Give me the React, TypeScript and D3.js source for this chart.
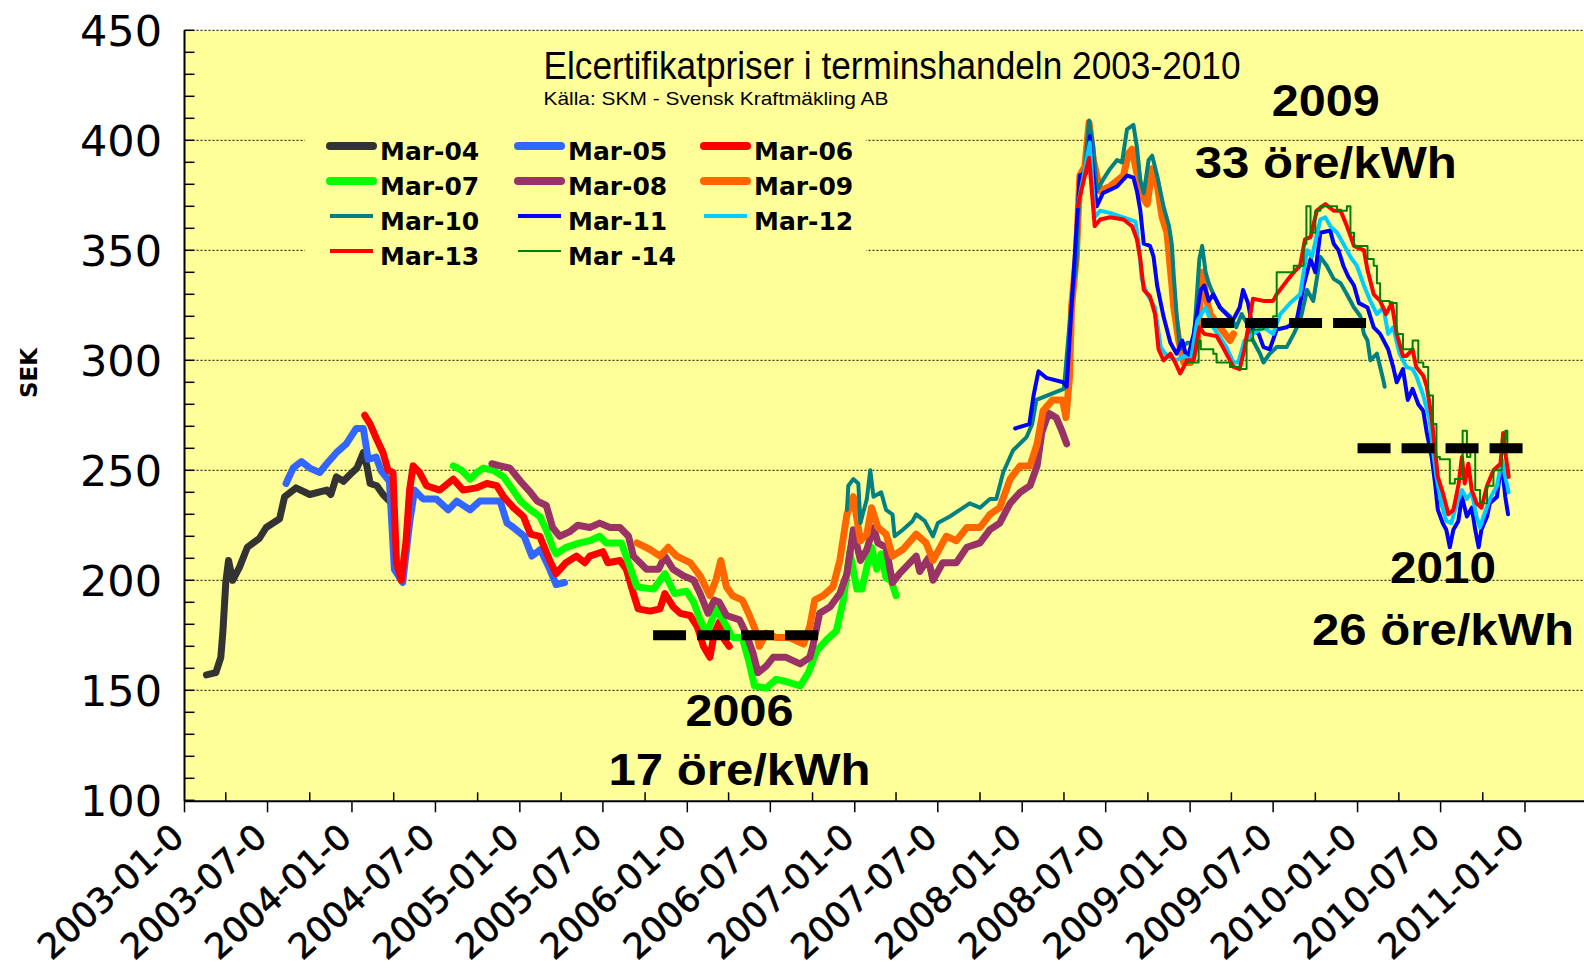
import React from "react";
import * as d3 from "d3";

// months counted from 2003-01-01, value in SEK
const mar04 = [
  [1.6, 157], [2.3, 158], [2.65, 165], [2.8, 177], [3.0, 199], [3.2, 209], [3.5, 200], [4.0, 206],
  [4.55, 215], [5.4, 219], [5.9, 224], [6.85, 228], [7.2, 238], [8.0, 242], [9.0, 239], [10.2, 241],
  [10.5, 239], [10.9, 247], [11.4, 245], [11.85, 248], [12.35, 251], [12.8, 258], [13.05, 252],
  [13.3, 244], [13.8, 243], [14.25, 239], [14.7, 236], [15.0, 235],
];
const mar05 = [
  [7.3, 244], [7.8, 251], [8.4, 254], [9.0, 251], [9.7, 249], [10.2, 253], [10.9, 258], [11.6, 262],
  [12.3, 269], [12.8, 269], [13.15, 255], [13.75, 256], [14.1, 250], [14.7, 245], [15.05, 205],
  [15.65, 199], [16.15, 226], [16.5, 241], [17.1, 237], [18.05, 237], [18.9, 232], [19.5, 236],
  [20.45, 232], [21.15, 236], [22.6, 236], [23.1, 226], [23.55, 224], [24.3, 220], [24.85, 211],
  [25.5, 214], [26.2, 205], [26.65, 198], [27.25, 199],
];
const mar06 = [
  [12.9, 275], [13.3, 271], [13.8, 264], [14.25, 258], [14.6, 250], [14.95, 249], [15.2, 208],
  [15.55, 200], [15.9, 218], [16.15, 241], [16.4, 252], [16.85, 249], [17.35, 243], [18.3, 241],
  [19.25, 246], [19.95, 241], [20.9, 242], [21.65, 244], [22.35, 243], [22.85, 238], [23.55, 233],
  [24.25, 229], [24.75, 221], [25.45, 220], [26.2, 209], [26.65, 203], [27.35, 208], [28.1, 211],
  [28.7, 208], [29.05, 211], [30.0, 213], [30.35, 208], [31.2, 209], [31.65, 205], [32.15, 194],
  [32.5, 187], [33.35, 186], [34.05, 187], [34.4, 194], [35.0, 188], [35.5, 185], [36.2, 184],
  [36.7, 179], [37.15, 170], [37.65, 165], [38.0, 176], [38.35, 181], [38.7, 173], [39.05, 170],
];
const mar07 = [
  [19.25, 252], [19.85, 250], [20.45, 246], [20.95, 249], [21.4, 251], [22.1, 250], [22.85, 247],
  [23.3, 243], [24.05, 236], [24.75, 232], [25.45, 229], [25.95, 223], [26.4, 215], [26.65, 212],
  [27.35, 215], [28.35, 217], [29.05, 218], [29.76, 220], [30.24, 217], [31.3, 217], [31.8, 208],
  [32.4, 197], [33.6, 196], [34.4, 203], [35.1, 194], [35.95, 195], [36.45, 190], [36.9, 182],
  [37.4, 176], [37.75, 181], [38.1, 187], [38.6, 182], [39.3, 174], [40.0, 174], [40.5, 162],
  [40.85, 152], [41.7, 151], [42.4, 155], [43.1, 154], [44.1, 152], [44.7, 158], [45.3, 168],
  [46.0, 173], [46.7, 177], [47.2, 191], [47.65, 213], [48.15, 196], [48.5, 196], [48.85, 206],
  [49.2, 215], [49.6, 205], [49.95, 212], [50.3, 201], [50.65, 200], [51.0, 193],
];
const mar08 = [
  [22.0, 253], [22.6, 252], [23.3, 251], [24.05, 245], [24.75, 240], [25.25, 236], [25.95, 234],
  [26.4, 224], [26.9, 220], [27.6, 222], [28.2, 225], [29.05, 224], [29.76, 226], [30.5, 224],
  [31.2, 224], [31.8, 220], [32.15, 211], [33.1, 205], [33.95, 205], [34.4, 211], [35.0, 205],
  [35.75, 202], [36.45, 200], [36.9, 194], [37.5, 185], [38.0, 191], [38.35, 190], [38.85, 184],
  [39.8, 182], [40.25, 176], [40.75, 167], [41.1, 158], [41.7, 161], [42.2, 165], [43.1, 165],
  [44.1, 162], [44.8, 165], [45.05, 171], [45.5, 185], [46.25, 188], [46.95, 194], [47.45, 203],
  [47.9, 223], [48.4, 209], [48.85, 214], [49.35, 224], [49.7, 217], [50.3, 215], [50.75, 199],
  [51.25, 203], [52.45, 211], [52.7, 204], [53.3, 210], [53.65, 200], [54.35, 208], [55.3, 208],
  [56.05, 215], [57.0, 217], [57.7, 223], [58.4, 226], [59.15, 235], [59.85, 240], [60.55, 243],
  [61.05, 252], [61.4, 267], [61.9, 276], [62.45, 274], [62.85, 268], [63.2, 262],
];
const mar09 = [
  [32.4, 217], [33.35, 214], [34.05, 211], [34.65, 215], [35.25, 211], [36.2, 208], [36.9, 202],
  [37.65, 193], [38.1, 200], [38.45, 209], [38.85, 197], [39.3, 193], [40.0, 191], [40.5, 184],
  [41.0, 176], [41.2, 170], [41.7, 176], [42.4, 174], [43.35, 174], [44.35, 171], [44.8, 179],
  [45.15, 191], [45.75, 193], [46.45, 197], [46.95, 209], [47.45, 230], [47.9, 238], [48.4, 218],
  [48.85, 221], [49.2, 233], [49.7, 224], [50.3, 221], [50.75, 211], [51.5, 214], [52.45, 221],
  [53.15, 217], [53.65, 209], [54.6, 220], [55.3, 218], [56.05, 224], [57.0, 224], [57.7, 230],
  [58.4, 233], [59.15, 246], [59.85, 252], [60.55, 252], [61.05, 262], [61.5, 277], [62.2, 282],
  [62.9, 282], [63.15, 274], [63.4, 292], [63.55, 324], [63.9, 347], [64.15, 384], [64.5, 388],
  [64.8, 408], [65.1, 391], [65.6, 377], [66.3, 379], [67.25, 384], [67.6, 394], [67.85, 396],
  [68.2, 385], [68.45, 376], [68.95, 371], [69.3, 387], [69.65, 380], [70.0, 365], [70.35, 358],
  [70.7, 335], [70.85, 324], [71.2, 309], [71.55, 299], [72.05, 299], [72.5, 309], [72.85, 340],
  [73.1, 330], [73.45, 321], [74.2, 315], [74.9, 309], [75.15, 312],
];
const mar10 = [
  [47.45, 232], [47.55, 243], [47.9, 246], [48.25, 244], [48.4, 226], [48.85, 237], [49.1, 250],
  [49.35, 238], [49.95, 240], [50.3, 232], [50.75, 230], [50.9, 220], [51.5, 223], [52.2, 227],
  [52.45, 230], [53.05, 227], [53.65, 220], [54.0, 226], [54.85, 229], [55.55, 232], [56.25, 235],
  [57.0, 233], [57.7, 237], [58.15, 237], [58.65, 249], [59.35, 259], [60.3, 265], [60.7, 271],
  [61.0, 282], [62.2, 285], [63.0, 287], [63.3, 309], [63.55, 326], [63.9, 344], [64.15, 382],
  [64.5, 387], [64.8, 409], [65.1, 397], [65.35, 377], [65.8, 382], [66.3, 387], [66.8, 391],
  [67.15, 390], [67.5, 405], [67.95, 407], [68.2, 397], [68.45, 382], [68.7, 376], [69.05, 391],
  [69.3, 393], [69.65, 384], [70.1, 370], [70.5, 361], [70.7, 353], [70.85, 338], [71.05, 321],
  [71.3, 305], [71.8, 308], [72.25, 308], [72.65, 346], [72.85, 352], [73.1, 340], [73.35, 335],
  [73.7, 330], [74.2, 324], [74.9, 320], [75.35, 315], [75.75, 321], [76.1, 317], [76.55, 309],
  [77.05, 303], [77.3, 299], [77.75, 303], [78.25, 306], [78.95, 306], [79.45, 312], [79.9, 318],
  [80.4, 332], [80.85, 327], [81.35, 347], [81.8, 343], [82.3, 337], [82.8, 335], [83.25, 330],
  [83.75, 324], [84.2, 320], [84.45, 312], [84.7, 309], [84.9, 300], [85.4, 303], [85.9, 291],
  [86.0, 288],
];
const mar11 = [
  [59.5, 269], [60.5, 271], [60.8, 284], [61.15, 295], [61.75, 292], [62.95, 290], [63.2, 288],
  [63.55, 324], [63.9, 359], [64.15, 384], [64.6, 385], [64.85, 402], [65.1, 384], [65.35, 370],
  [65.8, 376], [66.8, 379], [67.5, 384], [67.95, 383], [68.2, 377], [68.45, 368], [68.7, 353],
  [69.15, 352], [69.4, 347], [69.65, 334], [70.1, 320], [70.6, 308], [71.05, 303], [71.45, 309],
  [71.8, 300], [72.25, 312], [72.75, 332], [73.0, 334], [73.35, 327], [73.7, 330], [74.2, 324],
  [74.65, 321], [75.1, 318], [75.6, 324], [75.85, 332], [76.2, 326], [76.55, 314], [76.95, 312],
  [77.3, 306], [77.75, 305], [78.25, 314], [78.95, 315], [79.65, 318], [80.15, 334], [80.65, 346],
  [81.0, 340], [81.35, 358], [82.05, 359], [82.3, 353], [82.65, 350], [83.0, 343], [83.35, 338],
  [83.75, 334], [84.1, 326], [84.7, 324], [85.15, 315], [85.65, 312], [86.25, 305], [86.6, 297],
  [86.85, 290], [87.3, 296], [87.65, 282], [88.0, 287], [88.4, 280], [88.75, 277], [89.0, 267],
  [89.35, 256], [89.6, 244], [89.8, 232], [90.15, 226], [90.4, 223], [90.65, 215], [90.9, 223],
  [91.25, 227], [91.5, 238], [91.85, 229], [92.2, 233], [92.45, 223], [92.7, 215], [92.9, 223],
  [93.3, 229], [93.5, 235], [94.0, 238], [94.25, 250], [94.45, 247], [94.6, 238], [94.8, 230],
];
const mar12 = [
  [64.0, 370], [64.85, 399], [65.2, 365], [65.6, 368], [66.3, 367], [67.25, 365], [68.1, 363],
  [68.35, 352], [68.55, 337], [68.95, 330], [69.5, 324], [69.9, 306], [70.35, 302], [71.05, 300],
  [71.55, 302], [72.05, 300], [72.5, 318], [73.1, 324], [73.7, 315], [74.65, 306], [75.15, 299],
  [75.5, 299], [75.95, 309], [76.55, 312], [77.3, 315], [78.0, 312], [78.5, 321], [79.2, 326],
  [79.9, 330], [80.4, 350], [80.75, 347], [81.35, 364], [81.7, 365], [82.05, 361], [82.55, 358],
  [83.0, 353], [83.5, 347], [83.95, 343], [84.45, 334], [84.9, 327], [85.4, 321], [85.9, 324],
  [86.25, 312], [86.6, 315], [87.05, 303], [87.55, 297], [88.0, 296], [88.25, 293], [88.75, 284],
  [89.2, 273], [89.45, 259], [89.7, 247], [90.05, 235], [90.4, 227], [90.75, 226], [91.15, 235],
  [91.5, 241], [91.85, 237], [92.2, 240], [92.55, 229], [92.8, 224], [93.05, 229], [93.5, 237],
  [94.0, 243], [94.35, 255], [94.6, 247], [94.85, 240],
];
const mar13 = [
  [64.0, 370], [64.8, 392], [65.2, 361], [65.6, 364], [66.3, 365], [67.25, 364], [67.85, 361],
  [68.2, 355], [68.45, 346], [68.7, 332], [69.15, 329], [69.5, 321], [69.75, 305], [70.1, 300],
  [70.6, 303], [70.95, 299], [71.3, 294], [71.8, 300], [72.25, 300], [72.65, 315], [73.0, 312],
  [73.95, 311], [74.4, 306], [75.15, 297], [75.6, 296], [75.95, 305], [76.55, 328], [77.3, 327],
  [78.0, 327], [78.25, 330], [78.95, 336], [79.45, 340], [79.9, 343], [80.25, 355], [80.65, 356],
  [81.1, 368], [81.7, 371], [82.3, 368], [82.8, 368], [83.25, 361], [83.75, 352], [84.45, 350],
  [84.7, 341], [85.15, 330], [85.65, 327], [86.1, 321], [86.5, 326], [86.85, 312], [87.3, 302],
  [87.55, 302], [88.0, 305], [88.25, 297], [88.75, 293], [89.0, 288], [89.35, 274], [89.6, 259],
  [89.8, 247], [90.15, 240], [90.55, 230], [90.9, 232], [91.25, 243], [91.5, 256], [91.7, 244],
  [91.95, 253], [92.2, 241], [92.55, 235], [92.9, 233], [93.3, 243], [93.75, 250], [94.25, 253],
  [94.45, 267], [94.65, 256], [94.85, 247],
];
const mar14 = [
  [71.8, 299], [72.6, 309], [72.75, 305], [73.7, 303], [73.95, 299], [74.9, 297], [75.6, 296],
  [76.1, 309], [76.55, 314], [77.3, 315], [78.0, 320], [78.25, 340], [79.45, 343], [79.9, 343],
  [80.15, 353], [80.35, 370], [80.65, 358], [81.0, 368], [81.35, 370], [82.05, 370], [82.55, 368],
  [83.25, 370], [83.5, 358], [83.75, 352], [84.45, 352], [84.7, 346], [85.15, 343], [85.4, 335],
  [85.65, 327], [86.35, 326], [86.85, 312], [87.3, 305], [88.0, 309], [88.4, 299], [88.75, 297],
  [89.1, 284], [89.45, 271], [89.7, 256], [89.95, 255], [90.3, 255], [90.65, 244], [91.0, 246],
  [91.55, 268], [91.85, 256], [92.1, 261], [92.45, 241], [92.8, 235], [93.3, 243], [93.75, 250],
  [94.35, 264], [94.6, 268], [94.75, 259],
];

const seriesNames = ["Mar-04", "Mar-05", "Mar-06", "Mar-07", "Mar-08", "Mar-09", "Mar-10", "Mar-11", "Mar-12", "Mar-13", "Mar -14"];
const seriesData = [mar04, mar05, mar06, mar07, mar08, mar09, mar10, mar11, mar12, mar13, mar14];
const seriesColors = ["#333333", "#3366ff", "#ff0000", "#00ff00", "#993366", "#ff6600", "#008080", "#0000ff", "#00ccff", "#ff0000", "#008000"];
const seriesWidths = [7, 7, 7, 7, 7, 7, 4, 4, 4, 4, 2];

// dashed price levels (start month, end month, SEK)
const levelStart = [33.56, 72.77, 84.0];
const levelEnd = [45.4, 84.62, 96.1];
const levelValue = [175, 317, 260];

const yTicks = [100, 150, 200, 250, 300, 350, 400, 450];

const W = 1584;
const H = 973;
const left = 184.5;
const right = 1584;
const top = 30.3;
const bottom = 800.3;

const base = new Date(2003, 0, 1);
const monthToDate = (m: number) => {
  const whole = Math.floor(m);
  const d0 = d3.timeMonth.offset(base, whole);
  const d1 = d3.timeMonth.offset(base, whole + 1);
  return new Date(+d0 + (m - whole) * (+d1 - +d0));
};

const x = d3.scaleTime().domain([base, new Date(2011, 0, 1)]).range([left, 1525]);
const y = d3.scaleLinear().domain([100, 450]).range([bottom, top]);

export default function App() {
  const line = d3
    .line<number[]>()
    .x((d) => x(monthToDate(d[0])))
    .y((d) => y(d[1]));
  const stepLine = d3
    .line<number[]>()
    .curve(d3.curveStepAfter)
    .x((d) => x(monthToDate(d[0])))
    .y((d) => y(d[1]));

  const majorTicks = d3.timeMonth.every(6)!.range(base, d3.timeDay.offset(new Date(2011, 0, 1), 1));
  const minorTicks = d3.timeMonth
    .every(3)!
    .range(base, new Date(2011, 0, 1))
    .filter((d) => d.getMonth() % 6 === 3);
  const fmt = d3.timeFormat("%Y-%m-%d");
  const yMinor = d3.range(100, 451, 10);
  const axisY = bottom + 1;

  const legendCols = [330, 518, 704];
  const legendRows = [146, 181, 216, 251];

  return (
    <svg width={W} height={H} style={{ position: "absolute", left: 0, top: 0, background: "#fff" }}>
      <rect x={left} y={top} width={right - left} height={bottom - top} fill="#ffff99" />

      {/* grid */}
      {yTicks.slice(1).map((t) => (
        <line key={t} x1={left} x2={right} y1={y(t)} y2={y(t)} stroke="#000" strokeWidth={1} strokeDasharray="2,2" />
      ))}

      {/* legend box hides the grid */}
      <rect x={305} y={125} width={561} height={142} fill="#ffff99" />
      {seriesNames.map((name, i) => {
        const col = i % 3;
        const row = Math.floor(i / 3);
        const lx = legendCols[col];
        const ly = legendRows[row];
        return (
          <g key={name}>
            <line
              x1={lx}
              x2={lx + 43}
              y1={ly}
              y2={ly}
              stroke={seriesColors[i]}
              strokeWidth={seriesWidths[i] === 7 ? 8 : seriesWidths[i]}
              strokeLinecap={seriesWidths[i] === 7 ? "round" : "butt"}
            />
            <text x={lx + 50} y={ly + 14} fontFamily="DejaVu Sans" fontWeight="bold" fontSize={25} fill="#000">
              {name}
            </text>
          </g>
        );
      })}

      {/* series */}
      {seriesData.map((d, i) => (
        <path
          key={i}
          d={(i === 10 ? stepLine : line)(d as number[][]) || ""}
          fill="none"
          stroke={seriesColors[i]}
          strokeWidth={seriesWidths[i]}
          strokeLinejoin="round"
          strokeLinecap="round"
        />
      ))}

      {/* levels */}
      {levelValue.map((v, i) => (
        <line
          key={i}
          x1={x(monthToDate(levelStart[i]))}
          x2={x(monthToDate(levelEnd[i]))}
          y1={y(v)}
          y2={y(v)}
          stroke="#000"
          strokeWidth={10}
          strokeDasharray="33,11"
        />
      ))}

      {/* axes */}
      <line x1={left} x2={left} y1={top} y2={axisY} stroke="#000" strokeWidth={2} />
      <line x1={left} x2={right} y1={axisY} y2={axisY} stroke="#000" strokeWidth={2} />
      {yMinor.map((t) => (
        <line key={t} x1={left} x2={left + 10} y1={y(t)} y2={y(t)} stroke="#000" strokeWidth={1.5} />
      ))}
      {yTicks.map((t) => (
        <text key={t} x={162} y={y(t)} dy="0.36em" textAnchor="end" fontFamily="DejaVu Sans" fontSize={43} fill="#000">
          {t}
        </text>
      ))}
      {majorTicks.map((d) => (
        <line key={+d} x1={x(d)} x2={x(d)} y1={axisY} y2={axisY + 11} stroke="#000" strokeWidth={1.5} />
      ))}
      {minorTicks.map((d) => (
        <line key={+d} x1={x(d)} x2={x(d)} y1={axisY} y2={axisY - 9} stroke="#000" strokeWidth={1.5} />
      ))}
      {majorTicks.map((d) => (
        <text
          key={+d}
          transform={`translate(${x(d) + 1.5},840) rotate(-42)`}
          textAnchor="end"
          fontFamily="DejaVu Sans"
          fontSize={35}
          stroke="#000"
          strokeWidth={0.6}
          fill="#000"
        >
          {fmt(d).slice(0, 9)}
        </text>
      ))}
      <text transform="translate(37,373) rotate(-90)" textAnchor="middle" fontFamily="DejaVu Sans" fontWeight="bold" fontSize={23} fill="#000">
        SEK
      </text>

      {/* titles */}
      <text x={543.5} y={79} fontFamily="Liberation Sans Narrow, Arial Narrow, Liberation Sans" fontSize={38} textLength={697} lengthAdjust="spacingAndGlyphs" fill="#000">
        Elcertifikatpriser i terminshandeln 2003-2010
      </text>
      <text x={543.5} y={105} fontFamily="Liberation Sans Narrow, Arial Narrow, Liberation Sans" fontSize={19} textLength={345} lengthAdjust="spacingAndGlyphs" fill="#000">
        Källa: SKM - Svensk Kraftmäkling AB
      </text>

      {/* annotations */}
      {[
        { t: "2009", cx: 1325.8, by: 116, w: 108 },
        { t: "33 öre/kWh", cx: 1325.8, by: 177.5, w: 262 },
        { t: "2006", cx: 739.5, by: 726, w: 108 },
        { t: "17 öre/kWh", cx: 739.5, by: 785, w: 262 },
        { t: "2010", cx: 1443, by: 583, w: 106 },
        { t: "26 öre/kWh", cx: 1443, by: 644.5, w: 262 },
      ].map((a) => (
        <text
          key={a.t}
          x={a.cx - a.w / 2}
          y={a.by}
          fontFamily="Liberation Sans, Arial"
          fontWeight="bold"
          fontSize={45}
          textLength={a.w}
          lengthAdjust="spacingAndGlyphs"
          fill="#000"
        >
          {a.t}
        </text>
      ))}
    </svg>
  );
}
